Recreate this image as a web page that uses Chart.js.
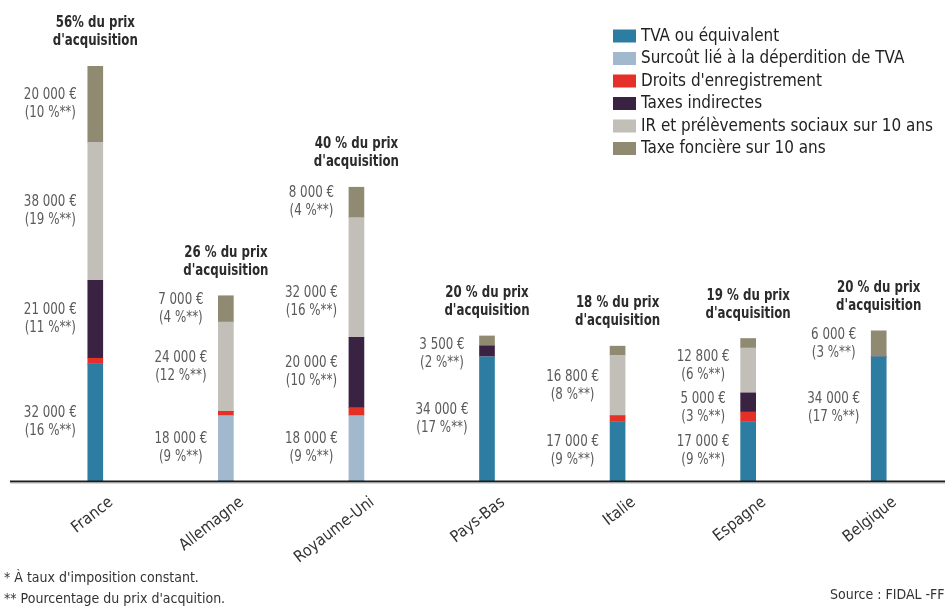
<!DOCTYPE html>
<html>
<head>
<meta charset="utf-8">
<script src="https://cdn.jsdelivr.net/npm/chart.js@4"></script>
<style>
  html, body { margin: 0; padding: 0; background: #fff; }
  #wrap { width: 945px; height: 606px; }
</style>
</head>
<body>
<div id="wrap"><canvas id="myChart"></canvas></div>
<script>
// data (euros)
const categories = ["France", "Allemagne", "Royaume-Uni", "Pays-Bas", "Italie", "Espagne", "Belgique"];
const seriesNames = ["TVA ou équivalent", "Surcoût lié à la déperdition de TVA", "Droits d'enregistrement",
  "Taxes indirectes", "IR et prélèvements sociaux sur 10 ans", "Taxe foncière sur 10 ans"];
const tva      = [32000, 0, 0, 34000, 16200, 16200, 34000];
const surcout  = [0, 17900, 17900, 0, 0, 0, 0];
const droits   = [1600, 1100, 2200, 0, 1600, 2700, 0];
const taxesInd = [21300, 0, 19200, 3000, 0, 5200, 0];
const irPs     = [37800, 24500, 32800, 0, 16600, 12300, 0];
const foncier  = [20800, 7200, 8300, 2700, 2500, 2600, 7100];
const totalPct = ["56%", "26 %", "40 %", "20 %", "18 %", "19 %", "20 %"];
// [country, first dataset, last dataset, amount €, % of price]
const notes = [
  [0, 0, 0, 32000, 16], [0, 3, 3, 21000, 11], [0, 4, 4, 38000, 19], [0, 5, 5, 20000, 10],
  [1, 1, 1, 18000, 9], [1, 4, 4, 24000, 12], [1, 5, 5, 7000, 4],
  [2, 1, 1, 18000, 9], [2, 3, 3, 20000, 10], [2, 4, 4, 32000, 16], [2, 5, 5, 8000, 4],
  [3, 0, 0, 34000, 17], [3, 3, 5, 3500, 2],
  [4, 0, 0, 17000, 9], [4, 4, 4, 16800, 8],
  [5, 0, 0, 17000, 9], [5, 3, 3, 5000, 3], [5, 4, 4, 12800, 6],
  [6, 0, 0, 34000, 17], [6, 5, 5, 6000, 3]
];

const colors = ["#2d7da2", "#a2b8cd", "#e5302a", "#3a2342", "#c2bfb9", "#918a73"];
const FONT = '"Liberation Sans Narrow", "DejaVu Sans Condensed", sans-serif';
// small vertical nudges (px) so labels sit where the original puts them
const noteNudge = { "2-4": 25, "3-3": 8, "6-0": -11, "5-3": 6, "5-4": -4 };

const fmt = (v) => String(v).replace(/\B(?=(\d{3})+(?!\d))/g, " ") + " €";

// text squeezed horizontally, the original uses a condensed face
function narrowText(ctx, text, x, y, sx) {
  ctx.save();
  ctx.translate(x, y);
  ctx.scale(sx, 1);
  ctx.fillText(text, 0, 0);
  ctx.restore();
}

const extras = {
  id: "extras",
  afterDatasetsDraw(chart) {
    const ctx = chart.ctx;
    const ys = chart.scales.y;
    ctx.save();
    // baseline
    ctx.fillStyle = "#1c1c1c";
    ctx.fillRect(10, 480.5, 935, 2);
    ctx.fillStyle = "#b4b4b4";
    ctx.fillRect(10, 482.5, 935, 1);

    // value labels left of the bars
    ctx.textAlign = "center";
    ctx.textBaseline = "middle";
    ctx.fillStyle = "#5a5a5a";
    ctx.font = "15px " + FONT;
    notes.forEach(([c, d0, d1, amount, pct]) => {
      const lo = chart.getDatasetMeta(d0).data[c];
      const hi = chart.getDatasetMeta(d1).data[c];
      const mid = (lo.base + hi.y) / 2 + (noteNudge[c + "-" + d0] || 0);
      const cx = lo.x - 45;
      narrowText(ctx, fmt(amount), cx, mid - 9, 0.88);
      narrowText(ctx, "(" + pct + " %**)", cx, mid + 9, 0.88);
    });

    // totals above the bars
    ctx.fillStyle = "#2b2b2b";
    ctx.font = "bold 16px " + FONT;
    categories.forEach((cat, i) => {
      const total = chart.data.datasets.reduce((s, ds) => s + ds.data[i], 0);
      const top = ys.getPixelForValue(total);
      const cx = chart.getDatasetMeta(0).data[i].x;
      narrowText(ctx, totalPct[i] + " du prix", cx, top - 43, 0.82);
      narrowText(ctx, "d'acquisition", cx, top - 25, 0.82);
    });

    // legend
    ctx.textAlign = "left";
    ctx.font = "18px " + FONT;
    chart.data.datasets.forEach((ds, k) => {
      const yy = 36 + k * 22.5;
      ctx.fillStyle = ds.backgroundColor;
      ctx.fillRect(613, yy - 6.5, 23, 13);
      ctx.fillStyle = "#222";
      narrowText(ctx, ds.label, 641, yy, 0.94);
    });

    // footnotes
    ctx.fillStyle = "#333";
    ctx.font = "14px " + FONT;
    ctx.fillText("* À taux d'imposition constant.", 4, 578);
    ctx.fillText("** Pourcentage du prix d'acquition.", 4, 599);
    ctx.fillText("Source : FIDAL -FFB", 830, 595);
    ctx.restore();
  }
};

const allSeries = [tva, surcout, droits, taxesInd, irPs, foncier];

const ctx = document.getElementById("myChart").getContext("2d");
const chart = new Chart(ctx, {
  type: "bar",
  data: {
    labels: categories,
    datasets: allSeries.map((vals, k) => ({
      label: seriesNames[k],
      data: vals,
      backgroundColor: colors[k],
      borderWidth: 0,
      barThickness: 15
    }))
  },
  options: {
    responsive: true,
    maintainAspectRatio: false,
    animation: false,
    layout: { padding: { top: 6, left: 30, right: 1, bottom: 0 } },
    plugins: { legend: { display: false }, tooltip: { enabled: false } },
    scales: {
      x: {
        stacked: true,
        grid: { display: false, drawTicks: false },
        border: { display: false },
        ticks: {
          minRotation: 38, maxRotation: 38, padding: 12, labelOffset: 16,
          color: "#333", font: { family: FONT, size: 16 }
        },
        afterFit(scale) { scale.height = 125; }
      },
      y: { stacked: true, display: false, min: 0, max: 130000 }
    }
  },
  plugins: [extras]
});
</script>
</body>
</html>
